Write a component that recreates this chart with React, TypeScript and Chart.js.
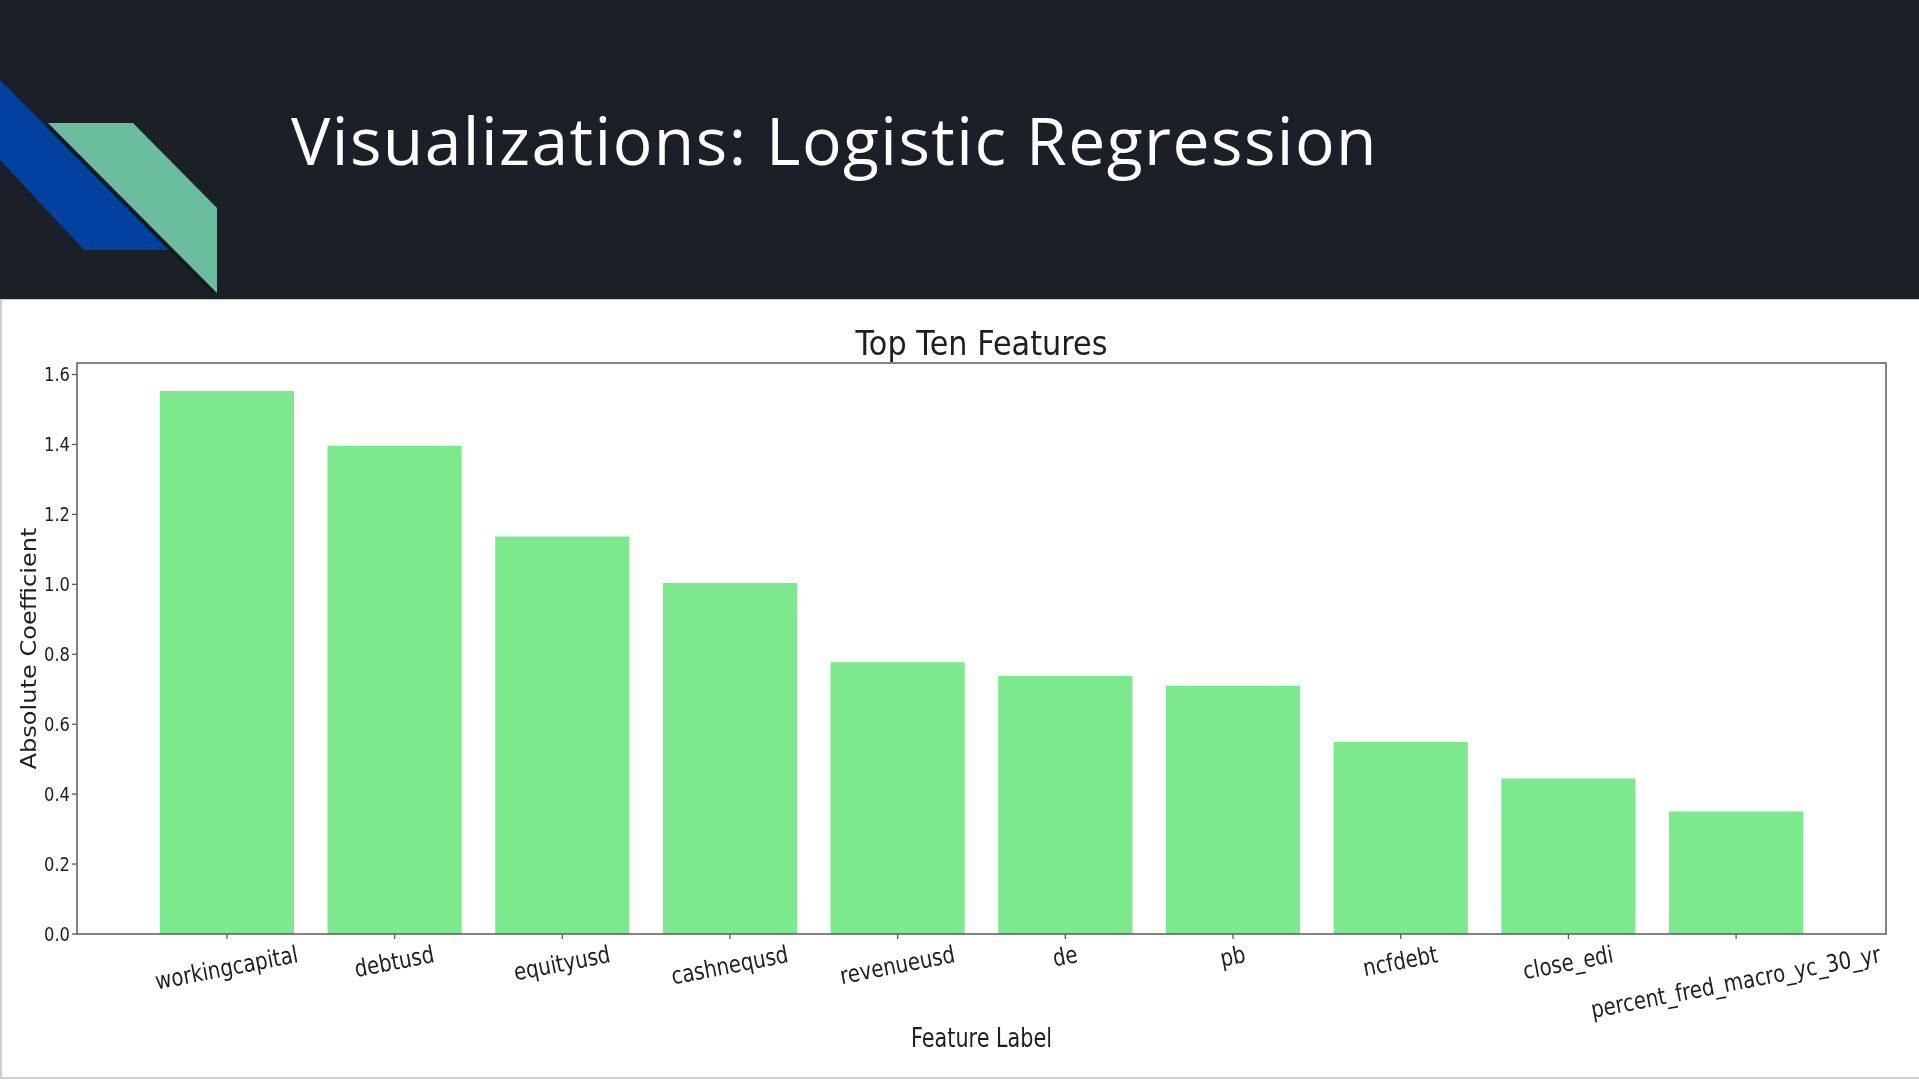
import React, { useEffect, useRef } from "react";
import { Chart, registerables } from "chart.js";

Chart.register(...registerables);

// ---------- data ----------
const slideTitle = "Visualizations: Logistic Regression";
const chartTitle = "Top Ten Features";
const xAxisTitle = "Feature Label";
const yAxisTitle = "Absolute Coefficient";

const categories = [
  "workingcapital",
  "debtusd",
  "equityusd",
  "cashnequsd",
  "revenueusd",
  "de",
  "pb",
  "ncfdebt",
  "close_edi",
  "percent_fred_macro_yc_30_yr",
];
const coefficients = [1.553, 1.396, 1.137, 1.004, 0.777, 0.738, 0.71, 0.549, 0.445, 0.35];
const yTickValues = [0, 0.2, 0.4, 0.6, 0.8, 1.0, 1.2, 1.4, 1.6];
const yTickLabels = ["0.0", "0.2", "0.4", "0.6", "0.8", "1.0", "1.2", "1.4", "1.6"];

// ---------- style ----------
const BAR = "#7ce98c";
const SPINE = "#5a5a5a";
const INK = "#1e1e1e";
const FONT = '"DejaVu Sans", "Liberation Sans", sans-serif';

function drawText(
  ctx: CanvasRenderingContext2D,
  text: string,
  x: number,
  y: number,
  opts: {
    size: number;
    rot?: number;
    sAlong?: number;
    sPerp?: number;
    align?: CanvasTextAlign;
    baseline?: CanvasTextBaseline;
  }
) {
  ctx.save();
  ctx.font = `${opts.size}px ${FONT}`;
  ctx.fillStyle = INK;
  ctx.textAlign = opts.align || "center";
  ctx.textBaseline = opts.baseline || "alphabetic";
  ctx.translate(x, y);
  if (opts.rot) ctx.rotate(opts.rot);
  ctx.scale(opts.sAlong ?? 1, opts.sPerp ?? 1);
  ctx.fillText(text, 0, 0);
  ctx.restore();
}

function widthAt(ctx: CanvasRenderingContext2D, text: string, size: number) {
  ctx.save();
  ctx.font = `${size}px ${FONT}`;
  const w = ctx.measureText(text).width;
  ctx.restore();
  return w;
}

const decorPlugin = {
  id: "decor",
  afterDraw(chart: any) {
    const { ctx, chartArea: a, scales } = chart;
    const x = scales.x;
    const y = scales.y;
    ctx.save();
    // frame
    ctx.strokeStyle = SPINE;
    ctx.lineWidth = 1.5;
    ctx.strokeRect(a.left, a.top, a.right - a.left, a.bottom - a.top);

    // y ticks
    const ySize = 19;
    const yScaleX = 26 / widthAt(ctx, "1.6", ySize);
    ctx.lineWidth = 1.3;
    yTickValues.forEach((v, i) => {
      const py = y.getPixelForValue(v);
      ctx.beginPath();
      ctx.moveTo(a.left - 5, py);
      ctx.lineTo(a.left, py);
      ctx.stroke();
      drawText(ctx, yTickLabels[i], a.left - 7, py + 0.364 * ySize, {
        size: ySize,
        sAlong: yScaleX,
        align: "right",
      });
    });

    // x ticks
    const xSize = 24;
    const xScaleX = 145 / widthAt(ctx, categories[0], xSize);
    const theta = (11 * Math.PI) / 180;
    categories.forEach((c, i) => {
      const px = x.getPixelForValue(i);
      ctx.beginPath();
      ctx.moveTo(px, a.bottom);
      ctx.lineTo(px, a.bottom + 5);
      ctx.stroke();
      const L = widthAt(ctx, c, xSize) * xScaleX;
      const half = (L / 2) * Math.sin(theta) + (xSize / 2) * Math.cos(theta);
      drawText(ctx, c, px, a.bottom + 10 + half, {
        size: xSize,
        rot: -theta,
        sAlong: xScaleX,
        baseline: "middle",
      });
    });

    const cx = (a.left + a.right) / 2;
    // chart title
    drawText(ctx, chartTitle, cx, a.top - 8, {
      size: 34,
      sAlong: 252 / widthAt(ctx, chartTitle, 34),
    });
    // x axis title
    drawText(ctx, xAxisTitle, cx, a.bottom + 113, {
      size: 26,
      sAlong: 141 / widthAt(ctx, xAxisTitle, 26),
    });
    // y axis title
    drawText(ctx, yAxisTitle, 36, (a.top + a.bottom) / 2, {
      size: 24,
      rot: -Math.PI / 2,
      sAlong: 242 / widthAt(ctx, yAxisTitle, 24),
      sPerp: 0.9,
    });
    ctx.restore();
  },
};

export default function App() {
  const canvasRef = useRef<HTMLCanvasElement | null>(null);
  const titleRef = useRef<HTMLDivElement | null>(null);

  useEffect(() => {
    const t = titleRef.current;
    if (t) {
      t.style.letterSpacing = "0px";
      const w = t.getBoundingClientRect().width;
      const ls = (1087 - w) / slideTitle.length;
      t.style.letterSpacing = `${ls}px`;
    }
    const canvas = canvasRef.current;
    if (!canvas) return;
    const chart = new Chart(canvas, {
      type: "bar",
      data: {
        datasets: [
          {
            data: categories.map((_, i) => ({ x: i, y: coefficients[i] })),
            backgroundColor: BAR,
            borderWidth: 0,
            barPercentage: 0.8,
            categoryPercentage: 1,
          } as any,
        ],
      },
      options: {
        animation: false,
        responsive: false,
        devicePixelRatio: 1,
        layout: { padding: { top: 64, right: 33, left: 0, bottom: 0 } },
        plugins: {
          legend: { display: false },
          tooltip: { enabled: false },
          title: { display: false },
        },
        scales: {
          x: {
            type: "linear",
            min: -0.894,
            max: 9.894,
            offset: false,
            grid: { display: false },
            border: { display: false },
            ticks: { display: false },
            afterBuildTicks: (s: any) => {
              s.ticks = categories.map((_, i) => ({ value: i }));
            },
            afterFit: (s: any) => {
              s.height = 146;
            },
          },
          y: {
            type: "linear",
            min: 0,
            max: 1.633,
            grid: { display: false },
            border: { display: false },
            ticks: { display: false },
            afterBuildTicks: (s: any) => {
              s.ticks = yTickValues.map((v) => ({ value: v }));
            },
            afterFit: (s: any) => {
              s.width = 77;
            },
          },
        },
      } as any,
      plugins: [decorPlugin],
    });
    return () => chart.destroy();
  }, []);

  return (
    <div
      style={{
        position: "absolute",
        left: 0,
        top: 0,
        width: 1919,
        height: 1080,
        overflow: "hidden",
        background: "#ffffff",
      }}
    >
      <div
        style={{
          position: "absolute",
          left: 0,
          top: 0,
          width: 1919,
          height: 299,
          background: "#1b1f27",
        }}
      />
      <svg
        width={260}
        height={299}
        style={{ position: "absolute", left: 0, top: 0 }}
      >
        <polygon points="0,80 169,250 84,250 0,160" fill="#0041a0" />
        <polygon points="45,126 130,126 214,211 214,296" fill="#10151c" opacity={0.6} />
        <polygon points="48,123 133,123 217,208 217,293" fill="#6bbe9d" />
      </svg>
      <div
        ref={titleRef}
        style={{
          position: "absolute",
          left: 291,
          top: 106,
          fontFamily: '"Open Sans", sans-serif',
          fontWeight: 400,
          fontSize: 66,
          lineHeight: "66px",
          color: "#ffffff",
          whiteSpace: "nowrap",
        }}
      >
        {slideTitle}
      </div>
      <div
        style={{
          position: "absolute",
          left: 0,
          top: 299,
          width: 1919,
          height: 781,
          background: "#ffffff",
        }}
      />
      <canvas
        ref={canvasRef}
        width={1919}
        height={781}
        style={{ position: "absolute", left: 0, top: 299, width: 1919, height: 781 }}
      />
      <div
        style={{
          position: "absolute",
          left: 0,
          top: 299,
          width: 1919,
          height: 780,
          boxSizing: "border-box",
          borderLeft: "2px solid #d0d0d0",
          borderBottom: "2px solid #d0d0d0",
          borderTop: "1px solid #c8c8c8",
          pointerEvents: "none",
        }}
      />
    </div>
  );
}
